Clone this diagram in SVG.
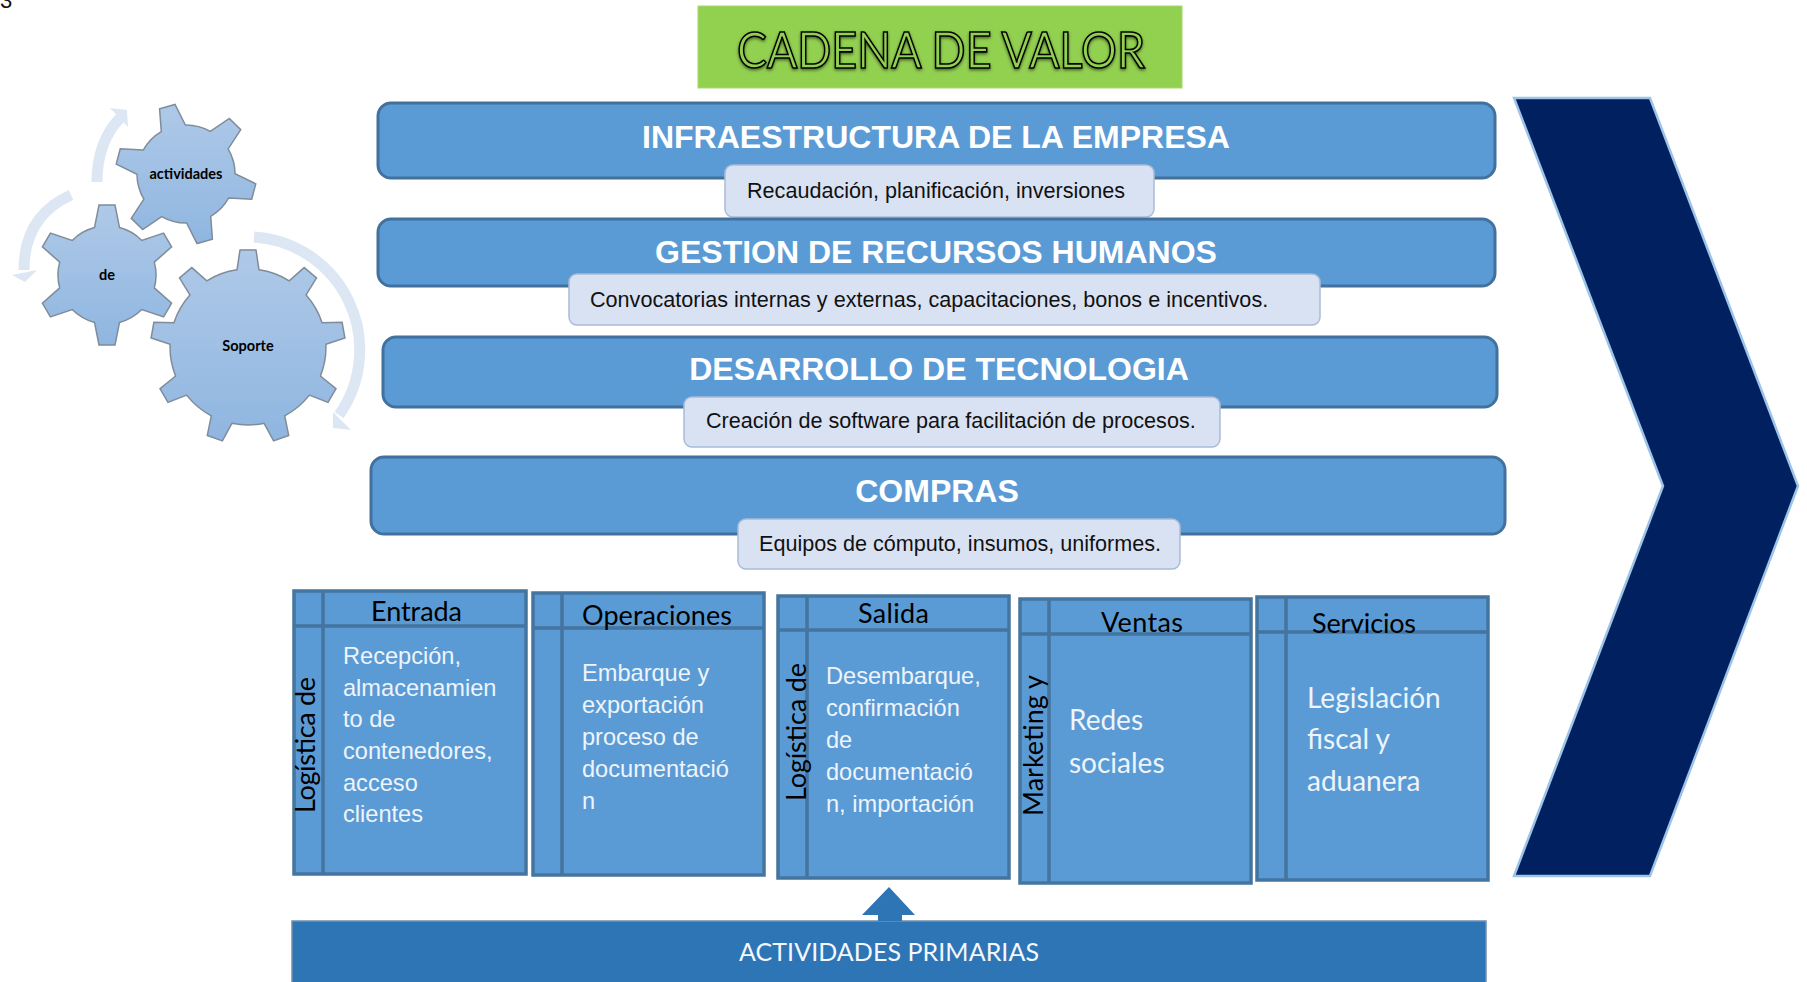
<svg xmlns="http://www.w3.org/2000/svg" width="1807" height="982" viewBox="0 0 1807 982">
<style>
.bar{fill:#5b9bd5;stroke:#41719c;stroke-width:3}
.sub{fill:#d9e2f3;stroke:#a9bcd6;stroke-width:1.5}
.bt{font:bold 32px "Liberation Sans",Arial,sans-serif;fill:#fff;text-anchor:middle}
.st{font:21.6px "Liberation Sans",Arial,sans-serif;fill:#111}
.col{fill:#5b9bd5;stroke:#44759f;stroke-width:3.5}
.ln{stroke:#44759f;stroke-width:3.5;fill:none}
.ch{font:27px Lato,"Open Sans",sans-serif;fill:#000}
.body{font:23.6px "Liberation Sans",Arial,sans-serif;fill:#eef4fb}
.cal{font:28px Lato,"Open Sans",sans-serif;fill:#eef4fb}
.gt{font:bold 14.5px Lato,"Open Sans",sans-serif;fill:#000;text-anchor:middle}
.gear{stroke:#7f8c99;stroke-width:1.5}
.arc{fill:none;stroke:#dde7f4;stroke-width:11}
.head{fill:#dde7f4}
</style>
<defs>
<linearGradient id="g" x1="0" y1="0" x2="0" y2="1"><stop offset="0" stop-color="#afc9e8"/><stop offset="1" stop-color="#8fb6e0"/></linearGradient>
<linearGradient id="gr" gradientUnits="userSpaceOnUse" x1="0" y1="-70" x2="0" y2="70" gradientTransform="rotate(15.5)"><stop offset="0" stop-color="#afc9e8"/><stop offset="1" stop-color="#8fb6e0"/></linearGradient>
<path id="g6" d="M-12.5-47.4L-8-70L8-70L12.5-47.4A49 49 0 0 1 34.8-34.5L56.6-41.9L64.6-28.1L47.3-12.9A49 49 0 0 1 47.3 12.9L64.6 28.1L56.6 41.9L34.8 34.5A49 49 0 0 1 12.5 47.4L8 70L-8 70L-12.5 47.4A49 49 0 0 1-34.8 34.5L-56.6 41.9L-64.6 28.1L-47.3 12.9A49 49 0 0 1-47.3-12.9L-64.6-28.1L-56.6-41.9L-34.8-34.5A49 49 0 0 1-12.5-47.4Z"/>
<filter id="sh" x="-5%" y="-20%" width="110%" height="140%"><feDropShadow dx="0" dy="1.5" stdDeviation="1.5" flood-color="#000" flood-opacity=".55"/></filter>
</defs>
<rect width="1807" height="982" fill="#fff"/>
<text x="0" y="8" font-family="Liberation Sans,sans-serif" font-size="22" fill="#111">3</text>
<g id="titulo">
<rect x="698" y="6" width="484" height="82" fill="#92d050" stroke="#a6d96c"/>
<text x="941" y="68" text-anchor="middle" font-family="Lato,sans-serif" font-size="50" textLength="408" lengthAdjust="spacingAndGlyphs" fill="#92d050" stroke="#000" stroke-width="1.6" filter="url(#sh)">CADENA DE VALOR</text>
</g>
<g id="chevron"><polygon points="1514,98 1650,98 1798,486 1650,876 1514,876 1663,486" fill="#002060" stroke="#9dc3e6" stroke-width="2.5"/></g>
<g id="infraestructura">
<rect class="bar" x="378" y="103" width="1117" height="75" rx="13"/>
<text class="bt" x="936" y="148">INFRAESTRUCTURA DE LA EMPRESA</text>
<rect class="sub" x="725" y="165" width="429" height="52" rx="8"/>
<text class="st" x="747" y="198">Recaudación, planificación, inversiones</text>
</g>
<g id="recursos">
<rect class="bar" x="378" y="219" width="1117" height="67" rx="13"/>
<text class="bt" x="936" y="263">GESTION DE RECURSOS HUMANOS</text>
<rect class="sub" x="569" y="274" width="751" height="51" rx="8"/>
<text class="st" x="590" y="307">Convocatorias internas y externas, capacitaciones, bonos e incentivos.</text>
</g>
<g id="tecnologia">
<rect class="bar" x="383" y="337" width="1114" height="70" rx="13"/>
<text class="bt" x="939" y="380">DESARROLLO DE TECNOLOGIA</text>
<rect class="sub" x="684" y="397" width="536" height="50" rx="8"/>
<text class="st" x="706" y="428">Creación de software para facilitación de procesos.</text>
</g>
<g id="compras">
<rect class="bar" x="371" y="457" width="1134" height="77" rx="13"/>
<text class="bt" x="937" y="502">COMPRAS</text>
<rect class="sub" x="738" y="519" width="442" height="50" rx="8"/>
<text class="st" x="759" y="551">Equipos de cómputo, insumos, uniformes.</text>
</g>
<g id="entrada">
<rect class="col" x="294" y="591" width="232" height="283"/><path class="ln" d="M323 591V874M294 626H526"/>
<text class="ch" x="371" y="621" textLength="91">Entrada</text>
<text class="ch" transform="translate(315,813) rotate(-90)" textLength="136">Logística de</text>
<text class="body" x="343"><tspan x="343" y="664">Recepción,</tspan><tspan x="343" y="696">almacenamien</tspan><tspan x="343" y="727">to de</tspan><tspan x="343" y="759">contenedores,</tspan><tspan x="343" y="791">acceso</tspan><tspan x="343" y="822">clientes</tspan></text>
</g>
<g id="operaciones">
<rect class="col" x="533" y="593" width="231" height="282"/><path class="ln" d="M562 593V875M533 628H764"/>
<text class="ch" x="582" y="625" textLength="150">Operaciones</text>
<text class="body"><tspan x="582" y="681">Embarque y</tspan><tspan x="582" y="713">exportación</tspan><tspan x="582" y="745">proceso de</tspan><tspan x="582" y="777">documentació</tspan><tspan x="582" y="809">n</tspan></text>
</g>
<g id="salida">
<rect class="col" x="778" y="596" width="231" height="282"/><path class="ln" d="M807 596V878M778 630H1009"/>
<text class="ch" x="858" y="623" textLength="71">Salida</text>
<text class="ch" transform="translate(806,801) rotate(-90)" textLength="138">Logística de</text>
<text class="body"><tspan x="826" y="684">Desembarque,</tspan><tspan x="826" y="716">confirmación</tspan><tspan x="826" y="748">de</tspan><tspan x="826" y="780">documentació</tspan><tspan x="826" y="812">n, importación</tspan></text>
</g>
<g id="ventas">
<rect class="col" x="1020" y="599" width="231" height="284"/><path class="ln" d="M1049 599V883M1020 634H1251"/>
<text class="ch" x="1101" y="632" textLength="82">Ventas</text>
<text class="ch" transform="translate(1043,816) rotate(-90)" textLength="141">Marketing y</text>
<text class="cal"><tspan x="1069" y="730">Redes</tspan><tspan x="1069" y="773">sociales</tspan></text>
</g>
<g id="servicios">
<rect class="col" x="1257" y="597" width="231" height="283"/><path class="ln" d="M1286 597V880M1257 632H1488"/>
<text class="ch" x="1312" y="633" textLength="104">Servicios</text>
<text class="cal"><tspan x="1307" y="708">Legislación</tspan><tspan x="1307" y="749">fiscal y</tspan><tspan x="1307" y="791">aduanera</tspan></text>
</g>
<g id="primarias">
<rect x="292" y="921" width="1194" height="62" fill="#2e75b6" stroke="#6f90b0" stroke-width="1.5"/>
<text x="739" y="961" font-family="Lato,sans-serif" font-size="25" fill="#f4f8fc" textLength="300">ACTIVIDADES PRIMARIAS</text>
</g>
<g id="conectores">
<polygon points="862,915 889,887 915,915 902,915 902,921 878,921 878,915" fill="#2e75b6"/>
<path class="arc" d="M254 237A113 113 0 0 1 339 415"/>
<polygon class="head" points="333,412 351,430 333,428"/>
<path class="arc" d="M71 195Q24 216 24 270"/>
<polygon class="head" points="12,275 37,270 25,282"/>
<path class="arc" d="M97 182Q97 142 120 118"/>
<polygon class="head" points="110,108 127,110 128,127"/>
</g>
<g id="engrane-actividades">
<use href="#g6" class="gear" fill="url(#gr)" transform="translate(186,174) rotate(-15.5)"/>
<text class="gt" x="186" y="179">actividades</text>
</g>
<g id="engrane-de">
<use href="#g6" class="gear" fill="url(#g)" transform="translate(107,275)"/>
<text class="gt" x="107" y="280">de</text>
</g>
<g id="engrane-soporte">
<path class="gear" fill="url(#g)" transform="translate(248,347)" d="M-11-77.2L-8-97L8-97L11-77.2A78 78 0 0 1 41.2-66.2L56.2-79.4L68.5-69.2L58.1-52.1A78 78 0 0 1 74.1-24.2L94.1-24.7L96.9-9L77.9-2.6A78 78 0 0 1 72.4 29.1L88 41.6L80 55.4L61.4 48.1A78 78 0 0 1 36.7 68.8L40.7 88.4L25.6 93.9L16.1 76.3A78 78 0 0 1-16.1 76.3L-25.6 93.9L-40.7 88.4L-36.7 68.8A78 78 0 0 1-61.4 48.1L-80 55.4L-88 41.6L-72.4 29.1A78 78 0 0 1-77.9-2.6L-96.9-9L-94.1-24.7L-74.1-24.2A78 78 0 0 1-58.1-52.1L-68.5-69.2L-56.2-79.4L-41.2-66.2A78 78 0 0 1-11-77.2Z"/>
<text class="gt" x="248" y="351">Soporte</text>
</g>
</svg>
